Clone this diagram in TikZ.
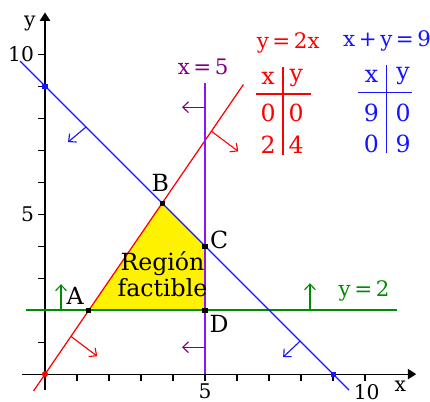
\documentclass[tikz,border=0pt]{standalone}
\usepackage{fontspec}
\setmainfont{DejaVu Serif}
\usepackage{tikz}
\usetikzlibrary{positioning,arrows.meta}

\definecolor{lineviolet}{RGB}{140,20,255}
\definecolor{plum}{RGB}{128,0,128}
\definecolor{grn}{RGB}{0,140,0}
\definecolor{blu}{RGB}{20,20,255}

\begin{document}
\begin{tikzpicture}[
  font=\fontsize{18}{21}\selectfont, >={Straight Barb[length=1.8mm,width=3.4mm]},
  ax/.style={line width=1pt, -{Triangle[length=2.6mm,width=3.2mm]}},
  ln/.style={line width=1.1pt},
  ar/.style={line width=1pt, ->},
  pt/.style={fill, inner sep=0pt, minimum size=4.5pt},
  eq/.style={font=\fontsize{19}{21}\selectfont},
  tb/.style={font=\fontsize{21}{23}\selectfont},
  lb/.style={font=\fontsize{21}{23}\selectfont, inner sep=0pt}]
\useasboundingbox (-1.406,-0.844) rectangle (12.03,11.69);
% points of the region
\node[pt] (pA) at (1.37,2) {};
\node[pt] (pB) at (3.66,5.34) {};
\node[pt] (pC) at (5,4) {};
\node[pt] (pD) at (5,2) {};
\fill[yellow] (pA.center) -- (pB.center) -- (pC.center) -- (pD.center) -- cycle;
% axes
\coordinate (xl) at (-0.72,0); \coordinate (xr) at (11.6,0);
\coordinate (yb) at (0,-0.5); \coordinate (yt) at (0,11.3);
\draw[ax] (xl) -- (xr); \draw[ax] (yb) -- (yt);
\foreach \i in {1,...,10} {\draw[line width=1pt] (\i,0) -- (\i,-0.22); \draw[line width=1pt] (0,\i) -- (-0.22,\i);}
\node[anchor=east] (y10) at (-0.22,10) {10};
\node[anchor=east] (y5) at (-0.22,5) {5};
\node[anchor=north, inner sep=1pt] (x5) at (5,-0.25) {5};
\node[anchor=north, inner sep=1pt] (x10) at (10.05,-0.28) {10};
\node (xt) at (11.1,-0.37) {x};
\node (yt) at (-0.47,10.95) {y};
% lines
\coordinate (b1) at (-0.78,9.78); \coordinate (b2) at (9.5,-0.5);
\coordinate (r1) at (-0.36,-0.53); \coordinate (r2) at (6.2,9.05);
\coordinate (p1) at (5,0); \coordinate (p2) at (5,9.1);
\coordinate (g1) at (-0.6,2); \coordinate (g2) at (11.0,2);
\draw[ln, grn] (g1) -- (g2);
\draw[ln, blu] (b1) -- (b2);
\draw[ln, red] (r1) -- (r2);
\draw[ln, lineviolet] (p1) -- (p2);
% half-plane arrows
\draw[ar, red] (0.81,1.18) -- (1.63,0.56); \draw[ar, red] (5.2,7.59) -- (6.04,6.96);
\draw[ar, blu] (1.28,7.72) -- (0.72,7.25); \draw[ar, blu] (7.97,1.03) -- (7.44,0.53);
\draw[ar, plum] (5,8.34) -- (4.28,8.34); \draw[ar, plum] (5,0.84) -- (4.28,0.84);
\draw[ar, grn] (0.5,2) -- (0.5,2.81); \draw[ar, grn] (8.28,2) -- (8.28,2.84);
% intercepts and corners
\node[pt, red, circle, minimum size=5.5pt] (o) at (0,0) {};
\node[pt, blu] (b9) at (0,9) {};
\node[pt, blu] (a9) at (9,0) {};
\node[pt] at (pA) {}; \node[pt] at (pB) {}; \node[pt] at (pC) {}; \node[pt] at (pD) {};
\node[lb] (lA) at (0.94,2.44) {A};
\node[lb] (lB) at (3.6,5.97) {B};
\node[lb] (lC) at (5.44,4.2) {C};
\node[lb] (lD) at (5.44,1.56) {D};
\node[lb, align=center] (reg) at (3.67,3.12) {Región\\factible};
% equations
\node[eq, grn] (e2) at (9.97,2.6) {y\,=\,2};
\node[eq, plum] (e5) at (4.94,9.6) {x\,=\,5};
\node[eq, red] (er) at (7.6,10.34) {y\,=\,2x};
\node[eq, blu] (eb) at (10.69,10.4) {x\,+\,y\,=\,9};
% tables
\begin{scope}[red, tb]
\node (rx) at (6.97,9.25) {x}; \node (ry) at (7.85,9.25) {y};
\node (rx1) at (6.97,8.16) {0}; \node (ry1) at (7.85,8.16) {0};
\node (rx2) at (6.97,7.16) {2}; \node (ry2) at (7.85,7.16) {4};
\draw[ln] (7.44,9.6) -- (7.44,6.84); \draw[ln] (6.6,8.75) -- (8.31,8.75);
\end{scope}
\begin{scope}[blu, tb]
\node (bx) at (10.2,9.31) {x}; \node (by) at (11.19,9.31) {y};
\node (bx1) at (10.2,8.16) {9}; \node (by1) at (11.19,8.16) {0};
\node (bx2) at (10.2,7.2) {0}; \node (by2) at (11.19,7.2) {9};
\draw[ln] (10.66,9.66) -- (10.66,6.9); \draw[ln] (9.78,8.8) -- (11.47,8.8);
\end{scope}
\end{tikzpicture}
\end{document}
